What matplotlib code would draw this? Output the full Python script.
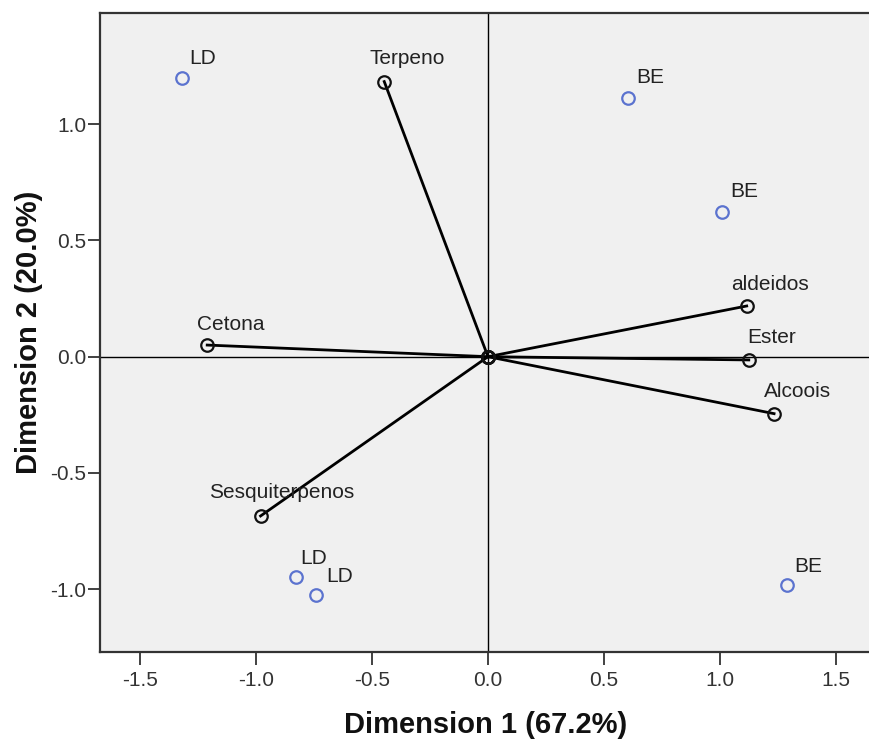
import matplotlib
matplotlib.use("Agg")
import matplotlib.pyplot as plt

# Variable (vector) coordinates
var_names = ["Terpeno", "Cetona", "aldeidos", "Ester", "Alcoois", "Sesquiterpenos"]
var_dim1 = [-0.447, -1.210, 1.115, 1.124, 1.233, -0.980]
var_dim2 = [1.183, 0.050, 0.218, -0.014, -0.245, -0.685]

# Object (sample) coordinates
obj_names = ["LD", "BE", "BE", "LD", "LD", "BE"]
obj_dim1 = [-1.320, 0.605, 1.007, -0.828, -0.741, 1.289]
obj_dim2 = [1.200, 1.114, 0.624, -0.949, -1.026, -0.981]

x_ticks = [-1.5, -1.0, -0.5, 0.0, 0.5, 1.0, 1.5]
y_ticks = [-1.0, -0.5, 0.0, 0.5, 1.0]
x_label = "Dimension 1 (67.2%)"
y_label = "Dimension 2 (20.0%)"

# label offsets in pixels (dx to text left, dy to baseline above point)
var_offsets = [(-15, 18), (-10, 15), (-16, 16), (-2, 17), (-10, 17), (-52, 18)]
obj_offsets = [(8, 14), (8, 15), (9, 15), (4, 13), (10, 13), (7, 13)]

plt.rcParams['font.family'] = ['Liberation Sans', 'DejaVu Sans']

W, H = 869, 742
fig = plt.figure(figsize=(W / 100, H / 100), dpi=100)
ax = fig.add_axes([100 / W, 1 - 652 / H, 772 / W, (652 - 13) / H])
ax.set_facecolor("#f0f0f0")

ax.set_xlim(-1.672, 1.655)
ax.set_ylim(-1.270, 1.478)

ax.axhline(0, color="black", lw=1.0, zorder=1)
ax.axvline(0, color="black", lw=1.0, zorder=1)

px = 72 / 100  # points per pixel

for name, x, y, (dx, dy) in zip(var_names, var_dim1, var_dim2, var_offsets):
    ax.plot([0, x], [0, y], color="black", lw=2.0, zorder=2)
    ax.plot([x], [y], marker="o", ms=9, mfc="none", mec="#111111", mew=1.6, zorder=3)
    ax.plot([0], [0], marker="o", ms=9, mfc="none", mec="#111111", mew=1.6, zorder=3)
    ax.annotate(name, (x, y), xytext=(dx * px, dy * px), textcoords="offset points",
                ha="left", va="baseline", fontsize=15, color="#222222", zorder=4)

for name, x, y, (dx, dy) in zip(obj_names, obj_dim1, obj_dim2, obj_offsets):
    ax.plot([x], [y], marker="o", ms=9, mfc="none", mec="#5b73cf", mew=1.6, zorder=3)
    ax.annotate(name, (x, y), xytext=(dx * px, dy * px), textcoords="offset points",
                ha="left", va="baseline", fontsize=15, color="#222222", zorder=4)

ax.set_xticks(x_ticks)
ax.set_xticklabels([f"{t:.1f}" for t in x_ticks])
ax.set_yticks(y_ticks)
ax.set_yticklabels([f"{t:.1f}" for t in y_ticks])
ax.tick_params(axis="both", direction="out", length=9, width=1.3, color="#333333",
               labelsize=15, labelcolor="#333333")
ax.tick_params(axis="x", pad=5)
ax.tick_params(axis="y", pad=1)

for s in ["top", "left", "bottom"]:
    ax.spines[s].set_color("#333333")
    ax.spines[s].set_linewidth(1.6)
ax.spines["right"].set_visible(False)

ax.set_xlabel(x_label, fontsize=21, fontweight="bold", color="#111111", labelpad=15)
ax.set_ylabel(y_label, fontsize=21, fontweight="bold", color="#111111", labelpad=5)

fig.savefig("out.png", dpi=100)
